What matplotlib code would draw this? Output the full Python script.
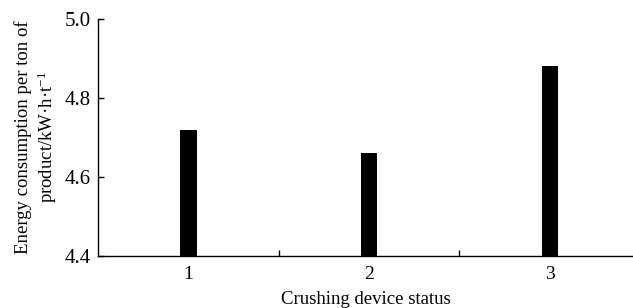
import matplotlib
matplotlib.use("Agg")
import matplotlib.pyplot as plt

# crushing device status vs energy consumption
status = [1, 2, 3]
energia = [4.72, 4.66, 4.88]
y_ticks = [4.4, 4.6, 4.8, 5.0]

plt.rcParams['font.family'] = ['Liberation Serif', 'DejaVu Serif']
plt.rcParams['mathtext.fontset'] = 'custom'
plt.rcParams['mathtext.rm'] = 'Liberation Serif'
plt.rcParams['mathtext.it'] = 'Liberation Serif:italic'

fig = plt.figure(figsize=(6.33, 3.08), dpi=100)
ax = fig.add_axes([98 / 633, 52 / 308, 1 - 98 / 633, 237 / 308])

ax.bar(status, [e - 4.4 for e in energia], bottom=4.4, width=0.09, color='black')

ax.set_xlim(0.5, 3.46)
ax.set_ylim(4.4, 5.0)
ax.set_yticks(y_ticks)
ax.set_yticklabels([f"{v:.1f}" for v in y_ticks], fontsize=15)

# ticks only between the groups, labels under the bars
ax.set_xticks([1.5, 2.5])
ax.set_xticklabels([])
ax.set_xticks(status, minor=True)
ax.set_xticklabels([str(s) for s in status], minor=True, fontsize=14)
ax.tick_params(axis='x', which='minor', length=0, pad=7)
ax.tick_params(axis='x', which='major', direction='in', length=4, width=1)
ax.tick_params(axis='y', direction='in', length=4, width=1, pad=5)

for side in ['top', 'right']:
    ax.spines[side].set_visible(False)
ax.spines['left'].set_linewidth(1)
ax.spines['bottom'].set_linewidth(1)

ax.set_xlabel("Crushing device status", fontsize=13.5, labelpad=6)
ax.set_ylabel("Energy consumption per ton of\nproduct/kW·h·t$^{-1}$", fontsize=13.5, labelpad=4)

fig.savefig("out.png", dpi=100)
